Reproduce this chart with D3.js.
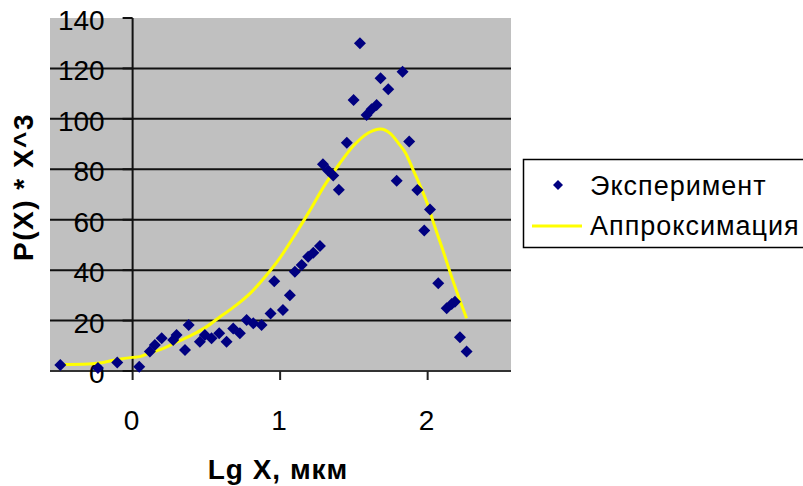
<!DOCTYPE html>
<html>
<head>
<meta charset="utf-8">
<script src="https://cdn.jsdelivr.net/npm/d3@7/dist/d3.min.js"></script>
<style>
  html, body { margin: 0; padding: 0; background: #ffffff; }
  svg { display: block; }
  text { font-family: "Liberation Sans", Arial, sans-serif; fill: #000; }
</style>
</head>
<body>
<svg id="chart" width="803" height="486"></svg>
<script>
// Experimental points (Lg X, P(X)*X^3)
const expX = [-0.49, -0.235, -0.104, 0.045, 0.117, 0.151, 0.197, 0.275, 0.298, 0.355,
  0.38, 0.456, 0.49, 0.535, 0.587, 0.637, 0.682, 0.727, 0.773, 0.818,
  0.874, 0.935, 0.96, 1.019, 1.066, 1.1, 1.146, 1.19, 1.225, 1.27,
  1.29, 1.325, 1.36, 1.398, 1.452, 1.498, 1.541, 1.586, 1.62, 1.654,
  1.681, 1.733, 1.79, 1.83, 1.875, 1.93, 1.977, 2.016, 2.072, 2.129,
  2.163, 2.185, 2.219, 2.264];
const expY = [2.4, 1.2, 3.4, 1.7, 7.7, 10.3, 13, 12.3, 14.3, 8.3,
  18.2, 11.6, 14.3, 13, 15, 11.6, 16.9, 15, 20.2, 18.9,
  18.2, 22.8, 35.6, 24.2, 30, 39.4, 42, 45.3, 46.9, 49.6,
  82, 79.5, 77.5, 71.9, 90.5, 107.5, 130, 101.5, 103.8, 105.5,
  116.1, 111.7, 75.5, 118.7, 91, 71.8, 55.7, 64.1, 34.8, 24.9,
  26.6, 27.5, 13.4, 7.7];

// Approximation curve
const fitX = [-0.49, -0.3, -0.2, -0.1, 0.0, 0.05, 0.1, 0.2, 0.3, 0.4,
  0.5, 0.6, 0.7, 0.8, 0.9, 1.0, 1.1, 1.2, 1.3, 1.4,
  1.5, 1.6, 1.68, 1.75, 1.8, 1.85, 1.9, 2.0, 2.05, 2.1,
  2.15, 2.2, 2.264];
const fitY = [2.6, 2.8, 3.4, 4.6, 5.4, 5.7, 6.8, 8.8, 11.5, 14.2,
  17.5, 21.8, 26, 31, 37.5, 45, 54, 63.5, 73.5, 82,
  89.5, 94.5, 96, 94, 90.5, 86.5, 80, 66, 57, 48.5,
  39.5, 31, 20.9];

const yTicks = [0, 20, 40, 60, 80, 100, 120, 140];
const xTicks = [0, 1, 2];
const seriesNames = ["Эксперимент", "Аппроксимация"];
const xTitle = "Lg X, мкм";
const yTitle = "P(X) * X^3";

const svg = d3.select("#chart");
const plot = { left: 50, right: 511, top: 18, bottom: 371 };

const x = d3.scaleLinear().domain([-0.56, 2.565]).range([plot.left, plot.right]);
const y = d3.scaleLinear().domain([0, 140]).range([plot.bottom, plot.top]);

// plot background
svg.append("rect")
  .attr("x", plot.left).attr("y", plot.top)
  .attr("width", plot.right - plot.left).attr("height", plot.bottom - plot.top)
  .attr("fill", "#c0c0c0");

// horizontal gridlines
svg.append("g").selectAll("line").data(yTicks.filter(d => d > 0 && d < 140)).join("line")
  .attr("x1", plot.left).attr("x2", plot.right)
  .attr("y1", d => y(d)).attr("y2", d => y(d))
  .attr("stroke", "#111").attr("stroke-width", 2);

// x axis line (at y=0)
svg.append("line")
  .attr("x1", plot.left).attr("x2", plot.right)
  .attr("y1", y(0)).attr("y2", y(0))
  .attr("stroke", "#333").attr("stroke-width", 2);

// x ticks
svg.append("g").selectAll("line").data(xTicks).join("line")
  .attr("x1", d => x(d)).attr("x2", d => x(d))
  .attr("y1", y(0)).attr("y2", y(0) + 9)
  .attr("stroke", "#222").attr("stroke-width", 2);

// y axis line (at x=0)
svg.append("line")
  .attr("x1", x(0)).attr("x2", x(0))
  .attr("y1", y(140)).attr("y2", y(0))
  .attr("stroke", "#111").attr("stroke-width", 2);

// y ticks (left of axis)
svg.append("g").selectAll("line").data(yTicks).join("line")
  .attr("x1", x(0) - 10).attr("x2", x(0))
  .attr("y1", d => y(d)).attr("y2", d => y(d))
  .attr("stroke", "#111").attr("stroke-width", 2);

// y tick labels
svg.append("g").selectAll("text").data(yTicks).join("text")
  .attr("x", x(0) - 28).attr("y", d => y(d) + 12)
  .attr("text-anchor", "end")
  .attr("font-size", 28)
  .text(d => d);

// x tick labels
svg.append("g").selectAll("text").data(xTicks).join("text")
  .attr("x", d => x(d) - 1).attr("y", 430)
  .attr("text-anchor", "middle")
  .attr("font-size", 28)
  .text(d => d);

// approximation line
const line = d3.line().x((d, i) => x(fitX[i])).y((d, i) => y(fitY[i])).curve(d3.curveMonotoneX);
svg.append("path")
  .attr("d", line(fitX))
  .attr("fill", "none")
  .attr("stroke", "#ffff00")
  .attr("stroke-width", 3);

// experimental diamonds
const diamond = r => `M0,${-r}L${r},0L0,${r}L${-r},0Z`;
svg.append("g").selectAll("path").data(expX).join("path")
  .attr("transform", (d, i) => `translate(${x(expX[i])},${y(expY[i])})`)
  .attr("d", diamond(6))
  .attr("fill", "#000080");

// axis titles
svg.append("text")
  .attr("x", 278).attr("y", 479)
  .attr("text-anchor", "middle")
  .attr("font-size", 28).attr("font-weight", "bold")
  .attr("letter-spacing", 1)
  .text(xTitle);

svg.append("text")
  .attr("transform", "translate(33,187) rotate(-90)")
  .attr("text-anchor", "middle")
  .attr("font-size", 28).attr("font-weight", "bold")
  .attr("letter-spacing", 1.5)
  .text(yTitle);

// legend
const lg = svg.append("g");
lg.append("rect")
  .attr("x", 523.5).attr("y", 159.5)
  .attr("width", 300).attr("height", 88)
  .attr("fill", "#fff").attr("stroke", "#000").attr("stroke-width", 1.5);
lg.append("path")
  .attr("transform", "translate(558,185)")
  .attr("d", diamond(5))
  .attr("fill", "#000080");
lg.append("line")
  .attr("x1", 532).attr("x2", 582).attr("y1", 226).attr("y2", 226)
  .attr("stroke", "#ffff00").attr("stroke-width", 3);
lg.append("text")
  .attr("x", 590).attr("y", 195)
  .attr("font-size", 27).attr("letter-spacing", 1)
  .text(seriesNames[0]);
lg.append("text")
  .attr("x", 590).attr("y", 235)
  .attr("font-size", 27).attr("letter-spacing", 1)
  .text(seriesNames[1]);
</script>
</body>
</html>
